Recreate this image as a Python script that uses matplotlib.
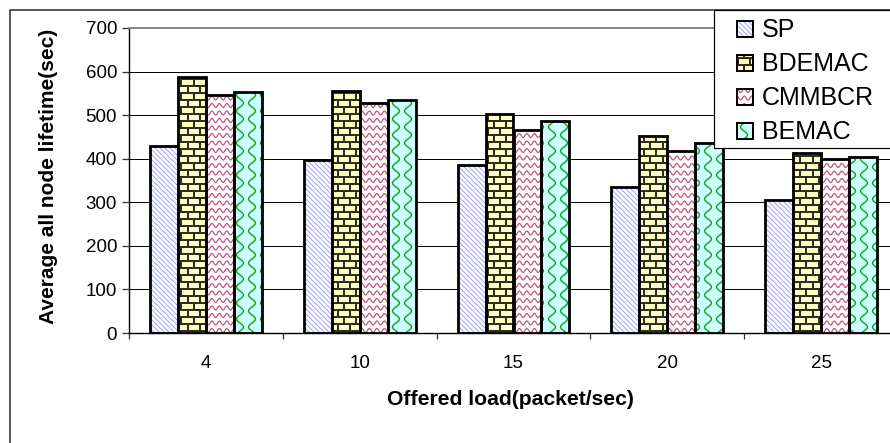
import numpy as np
import matplotlib
matplotlib.use("Agg")
import matplotlib.pyplot as plt
from matplotlib.collections import LineCollection
from matplotlib.patches import Rectangle
from matplotlib.transforms import IdentityTransform

# ---- data ----
loads = ["4", "10", "15", "20", "25"]
series_names = ["SP", "BDEMAC", "CMMBCR", "BEMAC"]
sp = [430, 398, 386, 334, 306]
bdemac = [588, 556, 502, 453, 413]
cmmbcr = [547, 528, 466, 417, 399]
bemac = [553, 534, 487, 437, 405]
y_ticks = [0, 100, 200, 300, 400, 500, 600, 700]

W, H, DPI = 890, 443, 100
PT = 72.0 / DPI  # points per pixel

plt.rcParams['font.family'] = ['Liberation Sans', 'DejaVu Sans']


# ---- fill patterns (built in display pixels, clipped to each shape) ----
def pat_diagonal(x0, y0, x1, y1, step=5.0):
    segs = []
    c = np.floor((x0 + y0) / step) * step
    while c <= x1 + y1 + step:
        segs.append([(c - y1, y1), (c - y0, y0)])
        c += step
    return segs


def pat_brick(x0, y0, x1, y1, w=12.5, h=7.0):
    segs = []
    for y in np.arange(np.floor(y0 / h) * h, y1 + h, h):
        segs.append([(x0 - 2, y), (x1 + 2, y)])
        off = (int(round(y / h)) % 2) * w / 2
        for x in np.arange(np.floor((x0 - off) / w) * w + off, x1 + w, w):
            segs.append([(x, y), (x, y + h)])
    return segs


def pat_zigzag(x0, y0, x1, y1, period=7.5, amp=2.0, gap=7.5):
    segs = []
    for y in np.arange(np.floor(y0 / gap) * gap, y1 + gap, gap):
        start = np.floor(x0 / period) * period - period
        xs = np.arange(start, x1 + period, 0.5)
        segs.append(np.column_stack([xs, y + amp * np.sin(2 * np.pi * xs / period)]))
    return segs


def pat_wave(x0, y0, x1, y1, gap=12.0, period=16.0, amp=3.5):
    segs = []
    ys = np.arange(np.floor(y0 / period) * period - period, y1 + period, 0.7)
    k0 = int(np.floor(x0 / gap)) - 1
    for k in range(k0, int(x1 / gap) + 2):
        xs = k * gap + amp * np.sin(2 * np.pi * ys / period + k * np.pi)
        segs.append(np.column_stack([xs, ys]))
    return segs


styles = [
    dict(fill="white", line="#a0a0ff", lw=1.0, pat=pat_diagonal),
    dict(fill="#ffffc4", line="#2e2e22", lw=2.0, pat=pat_brick),
    dict(fill="white", line="#c0507e", lw=1.2, pat=pat_zigzag),
    dict(fill="#ccffff", line="#16a016", lw=1.4, pat=pat_wave),
]


def add_pattern(container, shape, st, zorder):
    bb = shape.get_window_extent()
    segs = st["pat"](bb.x0, bb.y0, bb.x1, bb.y1)
    lc = LineCollection(segs, colors=st["line"], linewidths=st["lw"] * PT,
                        transform=IdentityTransform(), zorder=zorder)
    if container is fig:
        fig.add_artist(lc)
    else:
        container.add_collection(lc, autolim=False)
    # clip after adding, so the container does not replace it
    lc.set_clip_path(shape)


fig = plt.figure(figsize=(W / DPI, H / DPI), dpi=DPI)
fig.patch.set_facecolor("white")


def box(left, top, right, bottom):
    return [left / W, 1 - bottom / H, (right - left) / W, (bottom - top) / H]


ax = fig.add_axes(box(129, 28, 898, 333))
ax.set_xlim(-0.5, len(loads) - 0.5)
ax.set_ylim(0, 700)

x = np.arange(len(loads))
bar_w = 0.182
series = [sp, bdemac, cmmbcr, bemac]
for i, (vals, st) in enumerate(zip(series, styles)):
    pos = x + (i - 1.5) * bar_w
    bars = ax.bar(pos, vals, bar_w, color=st["fill"], edgecolor="none", zorder=2)
    for b in bars:
        add_pattern(ax, b, st, 3)
    ax.bar(pos, vals, bar_w, fill=False, edgecolor="black",
           linewidth=2.8 * PT, zorder=4)

# axes styling
ax.set_yticks(y_ticks)
ax.set_xticks(x, loads)
ax.set_xticks(np.arange(-0.5, len(loads), 1.0), minor=True)
ax.tick_params(axis="x", which="major", length=0, pad=16, labelsize=13.5)
ax.tick_params(axis="x", which="minor", length=4.5, width=0.9, color="#333333")
ax.tick_params(axis="y", length=5, width=0.9, pad=3.6, labelsize=13.5,
               color="#333333")
ax.yaxis.grid(True, color="black", linewidth=1.0 * PT)
ax.set_axisbelow(True)
for side in ("left", "bottom"):
    ax.spines[side].set_color("black")
    ax.spines[side].set_linewidth(1.4 * PT)
ax.spines["top"].set_color("#888888")
ax.spines["top"].set_linewidth(2.0 * PT)
ax.spines["right"].set_visible(False)

# axis titles
fig.text(510 / W, 1 - 405 / H, "Offered load(packet/sec)", ha="center",
         va="baseline", fontsize=15.2, fontweight="bold")
fig.text(54 / W, 1 - 176 / H, "Average all node lifetime(sec)", rotation=90,
         rotation_mode="anchor", ha="center", va="baseline", fontsize=15,
         fontweight="bold")

# outer chart frame
fig.add_artist(Rectangle((9.5, -20), 1000, H - 9.5 + 20, fill=False,
                         edgecolor="#222222", linewidth=1.5 * PT,
                         transform=IdentityTransform(), zorder=1))

# legend
fig.add_artist(Rectangle((713.5, H - 147.7), 400, 147.7 - 9.5,
                         facecolor="white", edgecolor="black",
                         linewidth=1.2 * PT, transform=IdentityTransform(),
                         zorder=5))
baselines = [36.7, 71.0, 105.3, 139.3]
for name, st, yb in zip(series_names, styles, baselines):
    sq = Rectangle((737, H - yb), 16, 16, facecolor=st["fill"], edgecolor="none",
                   transform=IdentityTransform(), zorder=6)
    fig.add_artist(sq)
    add_pattern(fig, sq, st, 6.5)
    fig.add_artist(Rectangle((737, H - yb), 16, 16, fill=False,
                             edgecolor="black", linewidth=2.0 * PT,
                             transform=IdentityTransform(), zorder=7))
    fig.text(761.5 / W, 1 - yb / H, name, ha="left", va="baseline",
             fontsize=18, zorder=7)

fig.savefig("out.png", dpi=DPI)
